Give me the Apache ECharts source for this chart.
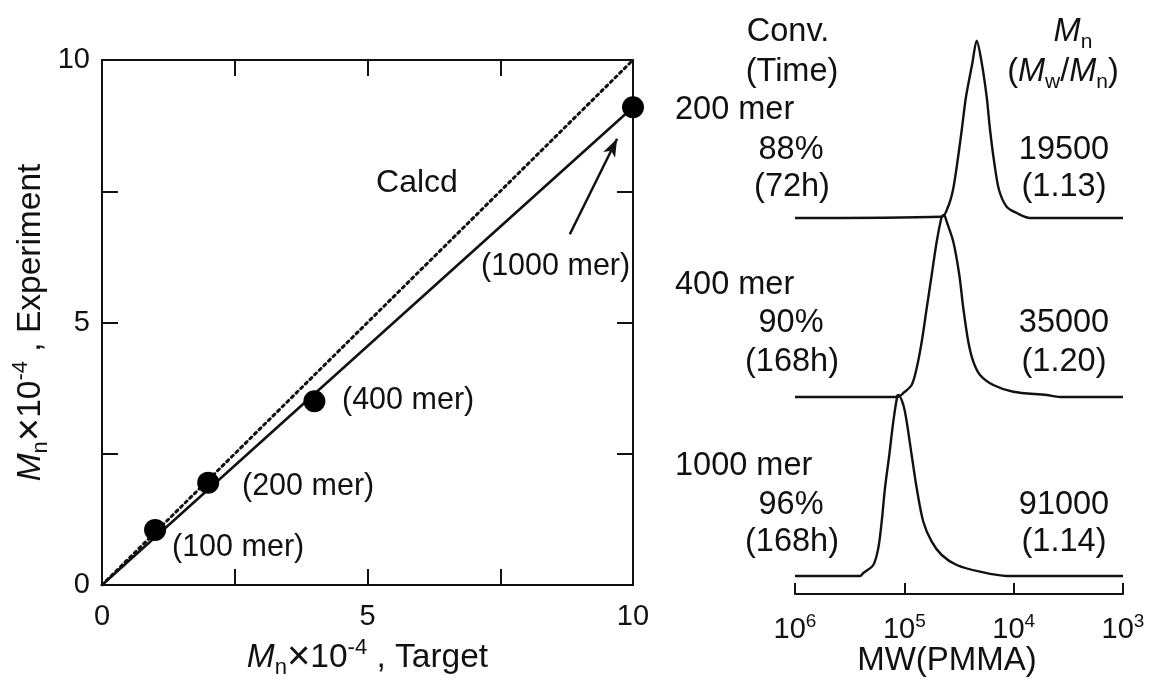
<!DOCTYPE html>
<html>
<head>
<meta charset="utf-8">
<script src="https://cdn.jsdelivr.net/npm/echarts@6/dist/echarts.min.js"></script>
<style>html,body{margin:0;padding:0;background:#fff;}#c{width:1163px;height:684px;}</style>
</head>
<body>
<div id="c"></div>
<script>
// ---- Left panel data ----
const targetMn = [1, 2, 4, 10];
const expMn = [1.05, 1.95, 3.5, 9.1];
const merLabels = ['(100 mer)', '(200 mer)', '(400 mer)', '(1000 mer)'];
const fitX = [0, 10];
const fitY = [0, 9.1];
const calcdX = [0, 10];
const calcdY = [0, 10];
const leftTickLabels = [0, 5, 10];

// ---- Right panel (GPC traces, stacked) ----
const mw200 = [1000000, 45500, 39900, 35900, 32800, 29850, 27290, 23880, 21780, 19590, 17660, 16440, 15030, 13610, 11590, 9380, 7100, 1000];
const sig200 = [3.76, 3.773, 3.87, 4.04, 4.31, 4.64, 4.973, 5.307, 5.533, 5.31, 4.973, 4.64, 4.31, 4.04, 3.873, 3.81, 3.76, 3.76];
const mw400 = [1000000, 114300, 102100, 85700, 77090, 69340, 62400, 56200, 50580, 45500, 43360, 40990, 35650, 31410, 28900, 26000, 23390, 20320, 15360, 10080, 4990, 3770, 1000];
const sig400 = [1.97, 1.97, 2.01, 2.09, 2.26, 2.523, 2.86, 3.19, 3.523, 3.773, 3.79, 3.723, 3.523, 3.19, 2.86, 2.523, 2.323, 2.19, 2.09, 2.023, 1.99, 1.97, 1.97];
const mw1000 = [1000000, 254300, 237200, 192300, 173000, 161100, 150300, 137300, 126200, 115900, 113000, 102100, 95120, 85700, 77090, 67060, 56200, 45500, 33190, 20320, 11590, 1000];
const sig1000 = [0.18, 0.18, 0.21, 0.29, 0.46, 0.723, 1.06, 1.39, 1.723, 1.983, 1.99, 1.89, 1.723, 1.39, 1.06, 0.723, 0.523, 0.39, 0.29, 0.223, 0.18, 0.18];

const sampleNames = ['200 mer', '400 mer', '1000 mer'];
const convs = ['88%', '90%', '96%'];
const times = ['(72h)', '(168h)', '(168h)'];
const mns = ['19500', '35000', '91000'];
const pdis = ['(1.13)', '(1.20)', '(1.14)'];

const FONT = '"Liberation Sans", Arial, sans-serif';
const INK = '#111';

function makeRich(fs) {
  const lh = Math.round(fs * 1.25);
  const small = Math.round(fs * 0.66);
  const slh = Math.round(fs * 0.62);
  return {
    n: {fontSize: fs, lineHeight: lh, fontFamily: FONT, color: INK},
    i: {fontSize: fs, lineHeight: lh, fontStyle: 'italic', fontFamily: FONT, color: INK},
    x: {fontSize: Math.round(fs * 1.2), lineHeight: lh, fontFamily: FONT, color: INK},
    sub: {fontSize: small, lineHeight: slh, verticalAlign: 'bottom', fontFamily: FONT, color: INK},
    sup: {fontSize: small, lineHeight: slh, verticalAlign: 'top', fontFamily: FONT, color: INK}
  };
}
const richTitle = makeRich(33.5);
const richRight = makeRich(32.5);
const richTick = makeRich(29);

const zip = (a, b) => a.map((v, k) => [v, b[k]]);

const chart = echarts.init(document.getElementById('c'), null, {renderer: 'canvas'});

function txt(x, y, text, fs, align, rich) {
  return {
    type: 'text', x: x, y: y, silent: true,
    style: {text: text, fill: INK, font: fs + 'px ' + FONT, align: align || 'center', verticalAlign: 'middle', rich: rich || makeRich(fs)}
  };
}

const graphics = [];
// left panel labels
const merPos = [[172, 548], [242, 487], [342, 401], [481, 267]];
merLabels.forEach((t, k) => graphics.push(txt(merPos[k][0], merPos[k][1], t, 30.5, 'left')));
graphics.push(txt(417, 183, 'Calcd', 32));
// right panel header
graphics.push(txt(788, 32, 'Conv.', 32.5));
graphics.push(txt(792, 72, '(Time)', 32.5));
graphics.push(txt(1073, 32, '{i|M}{sub|n}', 32.5, 'center', richRight));
graphics.push(txt(1063, 72, '{n|(}{i|M}{sub|w}{n|/}{i|M}{sub|n}{n|)}', 32.5, 'center', richRight));
const rowY = [[110, 150, 187], [285, 323, 362], [466, 505, 542]];
sampleNames.forEach((s, k) => {
  graphics.push(txt(675, rowY[k][0], s, 32.5, 'left'));
  graphics.push(txt(791, rowY[k][1], convs[k], 32.5));
  graphics.push(txt(792, rowY[k][2], times[k], 32.5));
  graphics.push(txt(1064, rowY[k][1], mns[k], 32.5));
  graphics.push(txt(1064, rowY[k][2], pdis[k], 32.5));
});
graphics.push(txt(947, 661, 'MW(PMMA)', 33));

const axisLineStyle = {color: INK, width: 2};

const option = {
  backgroundColor: '#fff',
  animation: false,
  textStyle: {fontFamily: FONT},
  grid: [
    {left: 102, right: 530, top: 60, bottom: 91},
    {left: 795, right: 40, top: 40, bottom: 90}
  ],
  xAxis: [
    {
      type: 'value', gridIndex: 0, min: 0, max: 10, interval: 2.5,
      axisLine: {onZero: false, lineStyle: axisLineStyle},
      axisTick: {inside: true, length: 16, lineStyle: axisLineStyle},
      splitLine: {show: false},
      axisLabel: {
        fontSize: 29, color: INK, fontFamily: FONT, margin: 17,
        formatter: v => leftTickLabels.indexOf(v) >= 0 ? String(v) : ''
      },
      name: '{i|M}{sub|n}{x|×}{n|10}{sup|-4}{n| , Target}',
      nameLocation: 'middle', nameGap: 52,
      nameTextStyle: {rich: richTitle, fontSize: 33.5, color: INK}
    },
    {
      type: 'value', gridIndex: 0, position: 'top', min: 0, max: 10, interval: 2.5,
      axisLine: {onZero: false, lineStyle: axisLineStyle},
      axisTick: {inside: true, length: 16, lineStyle: axisLineStyle},
      axisLabel: {show: false}, splitLine: {show: false}
    },
    {
      type: 'log', logBase: 10, gridIndex: 1, min: 1000, max: 1000000, inverse: true,
      axisLine: {onZero: false, lineStyle: axisLineStyle},
      axisTick: {inside: true, length: 11, lineStyle: axisLineStyle},
      splitLine: {show: false},
      minorTick: {show: false},
      axisLabel: {
        margin: 18, color: INK,
        formatter: v => '{n|10}{sup|' + Math.round(Math.log10(v)) + '}',
        rich: richTick
      }
    }
  ],
  yAxis: [
    {
      type: 'value', gridIndex: 0, min: 0, max: 10, interval: 2.5,
      axisLine: {show: true, onZero: false, lineStyle: axisLineStyle},
      axisTick: {show: true, inside: true, length: 16, lineStyle: axisLineStyle},
      splitLine: {show: false},
      axisLabel: {
        fontSize: 29, color: INK, fontFamily: FONT, margin: 12,
        formatter: v => leftTickLabels.indexOf(v) >= 0 ? String(v) : ''
      },
      name: '{i|M}{sub|n}{x|×}{n|10}{sup|-4}{n| , Experiment}',
      nameLocation: 'middle', nameGap: 50, nameRotate: 90,
      nameTextStyle: {rich: richTitle, fontSize: 33.5, color: INK}
    },
    {
      type: 'value', gridIndex: 0, position: 'right', min: 0, max: 10, interval: 2.5,
      axisLine: {show: true, onZero: false, lineStyle: axisLineStyle},
      axisTick: {show: true, inside: true, length: 16, lineStyle: axisLineStyle},
      axisLabel: {show: false}, splitLine: {show: false}
    },
    {
      type: 'value', gridIndex: 1, min: 0, max: 5.54, show: false
    }
  ],
  series: [
    {
      type: 'line', xAxisIndex: 0, yAxisIndex: 0, data: zip(calcdX, calcdY),
      symbol: 'none', lineStyle: {color: INK, width: 3, type: [2.5, 4], cap: 'round'}, z: 2
    },
    {
      type: 'line', xAxisIndex: 0, yAxisIndex: 0, data: zip(fitX, fitY),
      symbol: 'none', lineStyle: {color: INK, width: 2.6}, z: 3,
      markLine: {
        silent: true, symbol: ['none', 'arrow'], symbolSize: [10, 18],
        label: {show: false},
        lineStyle: {color: INK, width: 2.5, type: 'solid'},
        data: [[{coord: [8.81, 6.68]}, {coord: [9.70, 8.50]}]]
      }
    },
    {
      type: 'scatter', xAxisIndex: 0, yAxisIndex: 0, data: zip(targetMn, expMn),
      symbol: 'circle', symbolSize: 22, itemStyle: {color: '#000', opacity: 1}, clip: false, z: 5
    },
    {
      type: 'line', xAxisIndex: 2, yAxisIndex: 2, data: zip(mw200, sig200),
      symbol: 'none', smooth: 0.3, lineStyle: {color: INK, width: 2.4}
    },
    {
      type: 'line', xAxisIndex: 2, yAxisIndex: 2, data: zip(mw400, sig400),
      symbol: 'none', smooth: 0.3, lineStyle: {color: INK, width: 2.4}
    },
    {
      type: 'line', xAxisIndex: 2, yAxisIndex: 2, data: zip(mw1000, sig1000),
      symbol: 'none', smooth: 0.3, lineStyle: {color: INK, width: 2.4}
    }
  ],
  graphic: graphics
};
chart.setOption(option);
</script>
</body>
</html>
